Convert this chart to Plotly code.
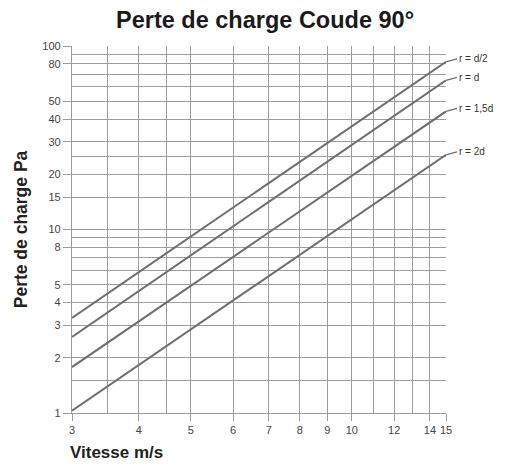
import math
import plotly.graph_objects as go

# Data (log-log straight lines)
vitesse = [3, 15]
r_d2 = [3.3, 82]
r_d = [2.6, 65]
r_15d = [1.78, 44]
r_2d = [1.03, 25.5]
series_names = ["r = d/2", "r = d", "r = 1,5d", "r = 2d"]
series_values = [r_d2, r_d, r_15d, r_2d]

x_tickvals = [3, 4, 5, 6, 7, 8, 9, 10, 12, 14, 15]
x_minor = [3.5, 4.5, 11, 13]
y_tickvals = [1, 2, 3, 4, 5, 8, 10, 15, 20, 30, 40, 50, 80, 100]
y_minor = [1.5, 6, 7, 9, 25, 60, 70, 90]

GRID = "#9c9c9c"
LINE = "#6e6e6e"
FONT = "Liberation Sans, Arial, sans-serif"

fig = go.Figure()
for name, vals in zip(series_names, series_values):
    fig.add_trace(go.Scatter(x=vitesse, y=vals, mode="lines", name=name,
                             line=dict(color=LINE, width=2), showlegend=False))
    fig.add_annotation(x=math.log10(vitesse[-1]), y=math.log10(vals[-1]),
                       xref="x", yref="y", text=name, showarrow=True,
                       arrowhead=0, arrowwidth=1.3, arrowcolor=LINE,
                       ax=11, ay=-3, xanchor="left", yanchor="middle",
                       font=dict(family=FONT, size=10, color="#333"))

fig.add_annotation(text="<b>Vitesse m/s</b>", xref="paper", yref="paper",
                   x=-0.012, y=-0.075, xanchor="left", yanchor="top", showarrow=False,
                   font=dict(family=FONT, size=17, color="#222"))

fig.update_layout(
    width=504, height=458,
    margin=dict(l=64, r=66, t=38, b=53),
    paper_bgcolor="white", plot_bgcolor="white",
    title=dict(text="<b>Perte de charge Coude 90°</b>", x=0.51, xanchor="center",
               y=0.975, yanchor="middle",
               font=dict(family=FONT, size=23.5, color="#1a1a1a")),
    xaxis=dict(type="log", range=[math.log10(3), math.log10(15)],
               tickvals=x_tickvals, ticktext=[str(v) for v in x_tickvals],
               ticks="outside", ticklen=7, tickcolor=GRID, tickwidth=1.2,
               showgrid=True, gridcolor=GRID, gridwidth=1.2,
               showline=True, linecolor=GRID, linewidth=1.2, mirror=False,
               minor=dict(tickvals=x_minor, showgrid=True, gridcolor=GRID, gridwidth=1.2, ticks=""),
               tickfont=dict(family=FONT, size=11, color="#444"), zeroline=False),
    yaxis=dict(type="log", range=[0, 2],
               tickvals=y_tickvals, ticktext=[str(v) for v in y_tickvals],
               ticks="outside", ticklen=8, tickcolor=GRID, tickwidth=1.2,
               showgrid=True, gridcolor=GRID, gridwidth=1.2,
               showline=True, linecolor=GRID, linewidth=1.2,
               minor=dict(tickvals=y_minor, showgrid=True, gridcolor=GRID, gridwidth=1.2, ticks=""),
               tickfont=dict(family=FONT, size=11, color="#444"), zeroline=False,
               title=dict(text="<b>Perte de charge Pa</b>", standoff=10,
                          font=dict(family=FONT, size=17.5, color="#222"))),
)

fig.write_html("out.html")
